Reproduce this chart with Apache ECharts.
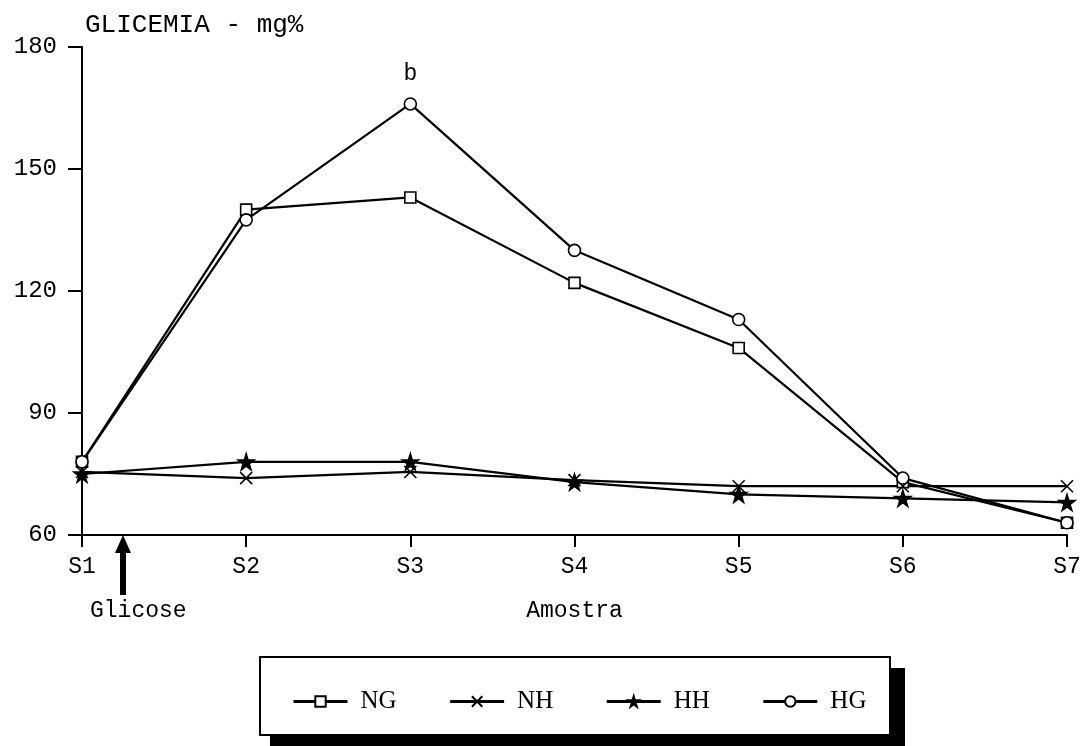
<!DOCTYPE html>
<html>
<head>
<meta charset="utf-8">
<script src="https://cdn.jsdelivr.net/npm/echarts@6/dist/echarts.min.js"></script>
<style>
html, body { margin: 0; padding: 0; background: #fff; }
#chart { width: 1085px; height: 746px; }
</style>
</head>
<body>
<div id="chart"></div>
<script>
const amostras = ['S1', 'S2', 'S3', 'S4', 'S5', 'S6', 'S7']
const yTicks = [60, 90, 120, 150, 180]
const ng = [78, 140, 143, 122, 106, 73, 63]
const nh = [75.5, 74, 75.5, 73.5, 72, 72, 72]
const hh = [75, 78, 78, 73, 70, 69, 68]
const hg = [78, 137.5, 166, 130, 113, 74, 63]

const mono = 'Liberation Mono'
const serif = 'Liberation Serif'
const star = 'path://M50,0 L61,35 L98,35 L68,57 L79,91 L50,70 L21,91 L32,57 L2,35 L39,35 Z'
const cross = 'path://M0,0 L100,100 M100,0 L0,100'

const myChart = echarts.init(document.getElementById('chart'))

function lineSeries (name, data, symbol, size, fill) {
  return {
    type: 'line',
    name: name,
    data: data,
    symbol: symbol,
    symbolSize: size,
    color: '#000',
    lineStyle: { color: '#000', width: 2.2 },
    itemStyle: { color: fill, borderColor: '#000', borderWidth: 1.6 },
    z: 3
  }
}

const hgSeries = lineSeries('HG', hg.map((v, i) => i === 2
  ? { value: v, label: { show: true, position: 'top', distance: 12, formatter: 'b', fontFamily: mono, fontSize: 23, color: '#000' } }
  : v), 'circle', 12, '#fff')

const option = {
  backgroundColor: '#fff',
  animation: false,
  title: {
    text: 'GLICEMIA - mg%',
    left: 80,
    top: 7,
    textStyle: { fontFamily: mono, fontSize: 26, fontWeight: 'normal', color: '#000' }
  },
  grid: { left: 82, right: 18, top: 47, bottom: 211 },
  legend: {
    left: 287,
    top: 684,
    itemGap: 52,
    itemWidth: 54,
    itemHeight: 13,
    lineStyle: { width: 3 },
    textStyle: { fontFamily: serif, fontSize: 25, color: '#000', padding: [0, 0, 0, 8] },
    data: ['NG', 'NH', 'HH', 'HG']
  },
  xAxis: {
    type: 'category',
    boundaryGap: false,
    data: amostras,
    name: 'Amostra',
    nameLocation: 'middle',
    nameGap: 64,
    nameTextStyle: { fontFamily: mono, fontSize: 23, color: '#000' },
    axisLine: { lineStyle: { color: '#000', width: 2 } },
    axisTick: { length: 12, lineStyle: { color: '#000', width: 2 } },
    axisLabel: { fontFamily: mono, fontSize: 23, color: '#000', margin: 20 },
    splitLine: { show: false }
  },
  yAxis: {
    type: 'value',
    min: yTicks[0],
    max: yTicks[yTicks.length - 1],
    interval: yTicks[1] - yTicks[0],
    axisLine: { show: true, lineStyle: { color: '#000', width: 2 } },
    axisTick: { show: true, length: 14, lineStyle: { color: '#000', width: 2 } },
    axisLabel: { fontFamily: mono, fontSize: 24, color: '#000', margin: 25 },
    splitLine: { show: false }
  },
  graphic: [
    // seta da glicose
    { type: 'polygon', shape: { points: [[123, 535], [115, 553], [131, 553]] }, style: { fill: '#000' } },
    { type: 'rect', shape: { x: 120, y: 551, width: 6, height: 44 }, style: { fill: '#000' } },
    { type: 'text', left: 90, top: 599, style: { text: 'Glicose', font: '23px "Liberation Mono"', fill: '#000' } },
    // caixa da legenda com sombra
    { type: 'rect', shape: { x: 890, y: 668, width: 15, height: 78 }, style: { fill: '#000' } },
    { type: 'rect', shape: { x: 270, y: 735, width: 635, height: 11 }, style: { fill: '#000' } },
    { type: 'rect', shape: { x: 260, y: 657, width: 630, height: 78 }, style: { fill: '#fff', stroke: '#000', lineWidth: 2 }, z: -1 }
  ],
  series: [
    lineSeries('NG', ng, 'rect', 11, '#fff'),
    lineSeries('NH', nh, cross, 12, 'none'),
    lineSeries('HH', hh, star, 16, '#000'),
    hgSeries
  ]
}

myChart.setOption(option)
</script>
</body>
</html>
